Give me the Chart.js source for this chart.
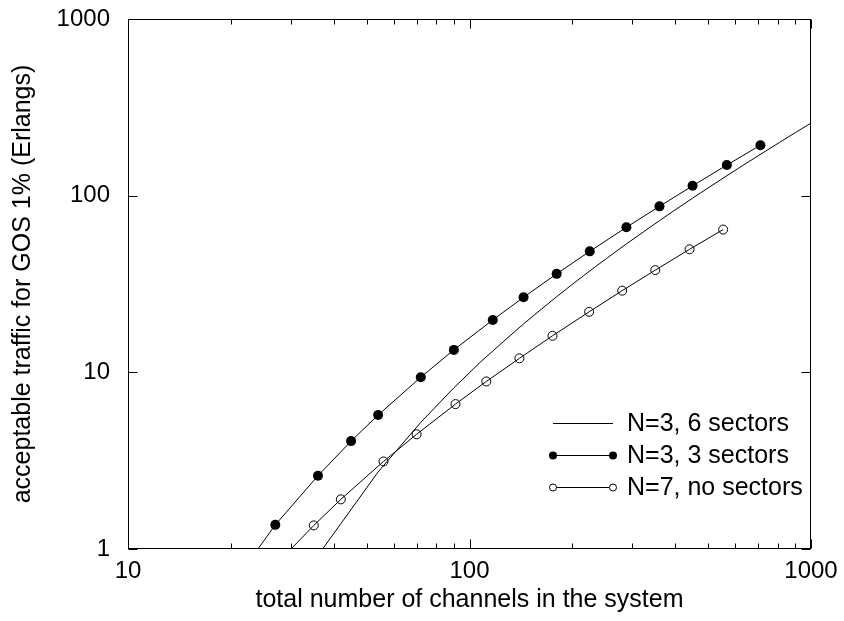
<!DOCTYPE html>
<html>
<head>
<meta charset="utf-8">
<script src="https://cdn.jsdelivr.net/npm/chart.js@4/dist/chart.umd.min.js"></script>
<style>
  html, body { margin: 0; padding: 0; background: #fff; }
  canvas { display: block; }
</style>
</head>
<body>
<canvas id="c" width="844" height="621"></canvas>
<script>
// ---- data ----
const seriesNames = ['N=3, 6 sectors', 'N=3, 3 sectors', 'N=7, no sectors'];

// N=3, 6 sectors (solid line, no markers)
const sixSectorChannels = [36, 54, 72, 90, 108, 126, 144, 162, 180, 198, 216, 234, 252, 270, 288, 324, 360, 396, 450, 504, 576, 648, 720, 810, 900, 1008];
const sixSectorTraffic  = [0.92, 2.73, 5.21, 8.17, 11.5, 15.0, 18.8, 22.7, 26.8, 31.0, 35.3, 39.7, 44.1, 48.7, 53.3, 62.6, 72.2, 82.0, 96.8, 111.8, 132.3, 153, 174, 200.5, 227.5, 260];

// N=3, 3 sectors (filled circles)
const threeSectorChannels = [18, 27, 36, 45, 54, 72, 90, 117, 144, 180, 225, 288, 360, 450, 567, 711];
const threeSectorTraffic  = [0.46, 1.37, 2.6, 4.08, 5.73, 9.38, 13.4, 19.8, 26.6, 36.1, 48.4, 66.2, 87, 113.7, 149, 193];

// N=7, no sectors (open circles)
const noSectorChannels = [28, 35, 42, 56, 70, 91, 112, 140, 175, 224, 280, 350, 441, 553];
const noSectorTraffic  = [0.87, 1.36, 1.91, 3.13, 4.46, 6.61, 8.88, 12.0, 16.1, 22.0, 29.0, 37.9, 49.7, 64.3];

// axis tick labels
const xTickLabels = [10, 100, 1000];
const xMinorTicks = [20, 30, 40, 50, 60, 70, 80, 90, 200, 300, 400, 500, 600, 700, 800, 900];
const yTickLabels = [1, 10, 100, 1000];

const xTitle = 'total number of channels in the system';
const yTitle = 'acceptable traffic for GOS 1% (Erlangs)';

// ---- chart ----
const FONT = "'Liberation Sans', Arial, Helvetica, sans-serif";
Chart.defaults.font.family = FONT;
Chart.defaults.color = '#000';

function pts(xs, ys) { return xs.map((x, i) => ({ x: x, y: ys[i] })); }

const framePlugin = {
  id: 'frame',
  afterDatasetsDraw(chart) {
    const ctx = chart.ctx;
    const a = chart.chartArea;
    const xs = chart.scales.x, ys = chart.scales.y;
    const L = Math.round(a.left) + 0.5, R = Math.round(a.right) - 0.5;
    const T = Math.round(a.top) + 0.5, B = Math.round(a.bottom) - 0.5;
    ctx.save();
    ctx.strokeStyle = '#000';
    ctx.lineWidth = 1;
    ctx.beginPath();
    // x ticks (bottom + top), inward
    const xt = (v, len) => {
      const p = Math.round(xs.getPixelForValue(v)) + 0.5;
      ctx.moveTo(p, B); ctx.lineTo(p, B - len);
      ctx.moveTo(p, T); ctx.lineTo(p, T + len);
    };
    xTickLabels.forEach(v => xt(v, 9));
    xMinorTicks.forEach(v => xt(v, 5));
    // y ticks (left + right), inward
    yTickLabels.forEach(v => {
      const p = Math.round(ys.getPixelForValue(v)) + 0.5;
      ctx.moveTo(L, p); ctx.lineTo(L + 9, p);
      ctx.moveTo(R, p); ctx.lineTo(R - 9, p);
    });
    ctx.stroke();
    ctx.strokeRect(L, T, R - L, B - T);

    // legend
    const rows = [423, 455, 487];
    const x1 = 553, x2 = 613, tx = 627;
    ctx.font = '25px ' + FONT;
    ctx.textBaseline = 'middle';
    ctx.textAlign = 'left';
    ctx.fillStyle = '#000';
    seriesNames.forEach((name, i) => {
      const y = rows[i] + 0.5;
      ctx.beginPath();
      ctx.moveTo(x1, y); ctx.lineTo(x2, y);
      ctx.stroke();
      if (i === 1) {
        [x1, x2].forEach(px => { ctx.beginPath(); ctx.arc(px, y, 4, 0, Math.PI * 2); ctx.fill(); });
      } else if (i === 2) {
        [x1, x2].forEach(px => { ctx.beginPath(); ctx.arc(px, y, 3.5, 0, Math.PI * 2); ctx.fillStyle = '#fff'; ctx.fill(); ctx.fillStyle = '#000'; ctx.stroke(); });
      }
      ctx.fillText(name, tx, rows[i] + 1.5);
    });
    ctx.restore();
  }
};

const hiddenGrid = (len) => ({ display: true, drawOnChartArea: false, drawTicks: true, tickLength: len, color: 'rgba(0,0,0,0)' });

new Chart(document.getElementById('c'), {
  type: 'scatter',
  data: {
    datasets: [
      {
        label: seriesNames[0],
        data: pts(sixSectorChannels, sixSectorTraffic),
        showLine: true, borderColor: '#000', borderWidth: 1, pointRadius: 0, tension: 0
      },
      {
        label: seriesNames[1],
        data: pts(threeSectorChannels, threeSectorTraffic),
        showLine: true, borderColor: '#000', borderWidth: 1, tension: 0,
        pointRadius: 5, pointBackgroundColor: '#000', pointBorderColor: '#000', pointBorderWidth: 0
      },
      {
        label: seriesNames[2],
        data: pts(noSectorChannels, noSectorTraffic),
        showLine: true, borderColor: '#000', borderWidth: 1, tension: 0,
        pointRadius: 4.5, pointBackgroundColor: 'rgba(0,0,0,0)', pointBorderColor: '#000', pointBorderWidth: 1
      }
    ]
  },
  options: {
    responsive: false,
    animation: false,
    devicePixelRatio: 1,
    layout: { padding: { top: 19, right: 33, left: 0, bottom: 0 } },
    plugins: { legend: { display: false }, tooltip: { enabled: false } },
    events: [],
    scales: {
      x: {
        type: 'logarithmic', position: 'bottom', min: 10, max: 1000,
        afterBuildTicks: s => { s.ticks = xTickLabels.map(v => ({ value: v, major: true })); },
        afterFit: s => { s.height = 72; },
        grid: hiddenGrid(8), border: { display: false },
        ticks: { font: { size: 24 }, color: '#000', padding: 0, maxRotation: 0, autoSkip: false, callback: v => String(v) },
        title: { display: true, text: xTitle, font: { size: 25 }, color: '#000', padding: { top: 0, bottom: 6 } }
      },
      y: {
        type: 'logarithmic', position: 'left', min: 1, max: 1000,
        afterBuildTicks: s => { s.ticks = yTickLabels.map(v => ({ value: v, major: true })); },
        afterFit: s => { s.width = 128; },
        grid: hiddenGrid(18), border: { display: false },
        ticks: { font: { size: 24 }, color: '#000', padding: 0, autoSkip: false, callback: v => String(v) },
        title: { display: true, text: yTitle, font: { size: 25 }, color: '#000', padding: { top: 8, bottom: 0 } }
      }
    }
  },
  plugins: [framePlugin]
});
</script>
</body>
</html>
